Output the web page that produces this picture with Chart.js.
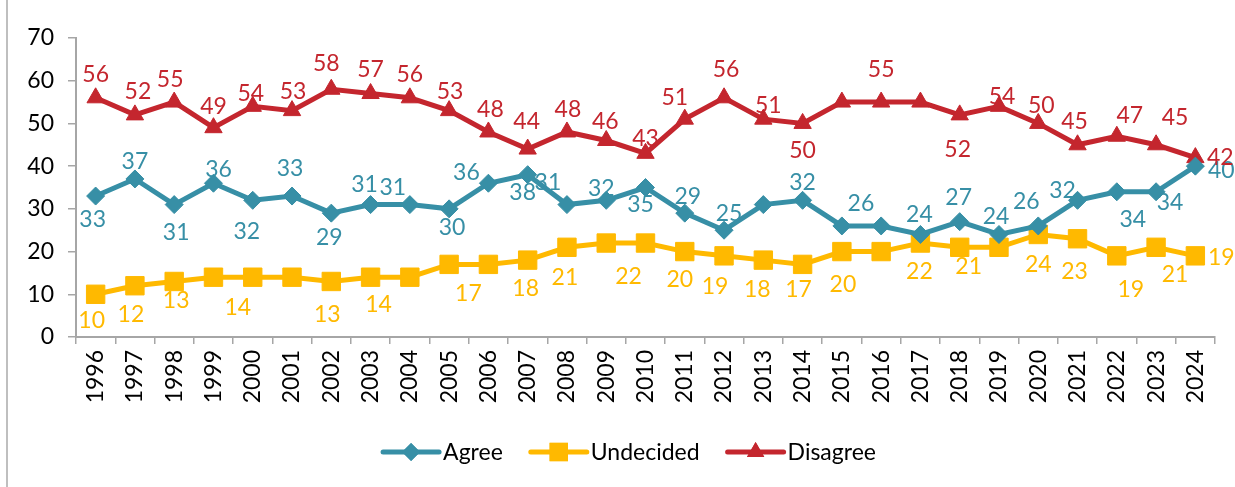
<!DOCTYPE html>
<html>
<head>
<meta charset="utf-8">
<script src="https://cdn.jsdelivr.net/npm/chart.js@4"></script>
<style>
  html, body { margin: 0; padding: 0; background: #fff; }
  #wrap { width: 1235px; height: 487px; position: relative; }
</style>
</head>
<body>
<div id="wrap"><canvas id="trendChart" width="1235" height="487"></canvas></div>
<script>
// Survey years and series values (percent)
const years = ['1996', '1997', '1998', '1999', '2000', '2001', '2002', '2003', '2004', '2005',
  '2006', '2007', '2008', '2009', '2010', '2011', '2012', '2013', '2014', '2015',
  '2016', '2017', '2018', '2019', '2020', '2021', '2022', '2023', '2024'];
const agree = [33, 37, 31, 36, 32, 33, 29, 31, 31, 30, 36, 38, 31, 32, 35, 29, 25, 31, 32, 26,
  26, 24, 27, 24, 26, 32, 34, 34, 40];
const undecided = [10, 12, 13, 14, 14, 14, 13, 14, 14, 17, 17, 18, 21, 22, 22, 20, 19, 18, 17, 20,
  20, 22, 21, 21, 24, 23, 19, 21, 19];
const disagree = [56, 52, 55, 49, 54, 53, 58, 57, 56, 53, 48, 44, 48, 46, 43, 51, 56, 51, 50, 55,
  55, 55, 52, 54, 50, 45, 47, 45, 42];
const yTicks = [0, 10, 20, 30, 40, 50, 60, 70];

// Label nudges in pixels relative to each point (null = label not shown)
const agreeLabelOffsets = [[-3, 24], [0, -17], [2, 28], [5, -14], [-6, 31], [-2, -27], [-2, 24], [-6, -20], [-17, -17], [3, 19],
  [-22, -11], [-5, 18], [-19, -22], [-5, -12], [-5, 17], [3, -17], [5, -17], null, [0, -18], [19, -22],
  null, [-1, -20], [-1, -24], [-3, -18], [-12, -24], [-15, -10], [16, 28], [14, 11], [26, 4]];
const undecidedLabelOffsets = [[-4, 26], [-4, 29], [2, 19], null, [-15, 30], null, [-4, 33], [8, 27], null, null,
  [-20, 29], [-2, 28], [-2, 30], null, [-17, 34], [-5, 28], [-9, 31], [-6, 29], [-4, 25], [1, 33],
  null, [-1, 29], [9, 19], null, [0, 30], [-3, 33], [14, 34], [19, 27], [26, 2]];
const disagreeLabelOffsets = [[0, -23], [3, -23], [-4, -22], [0, -21], [-2, -13], [1, -19], [-5, -26], [0, -24], [0, -23], [1, -19],
  [2, -22], [-1, -27], [1, -22], [-1, -19], [0, -15], [-10, -22], [2, -28], [5, -14], [0, 27], null,
  [0, -32], null, [-2, 35], [3, -10], [3, -18], [-3, -23], [13, -21], [19, -27], [25, 0]];

const FONT = 'Lato, "Open Sans", sans-serif';
const AXIS_GREY = '#A6A6A6';

// White background + outer frame line on the left
const framePlugin = {
  id: 'frame',
  beforeDraw(chart) {
    const ctx = chart.ctx;
    ctx.save();
    ctx.fillStyle = '#fff';
    ctx.fillRect(0, 0, chart.width, chart.height);
    ctx.strokeStyle = '#BFBFBF';
    ctx.lineWidth = 2;
    ctx.beginPath();
    ctx.moveTo(7, 0);
    ctx.lineTo(7, chart.height);
    ctx.stroke();
    ctx.restore();
  }
};

// Value labels next to each point, nudged per point
const pointLabelsPlugin = {
  id: 'pointLabels',
  afterDatasetsDraw(chart) {
    const ctx = chart.ctx;
    ctx.save();
    ctx.font = '23px ' + FONT;
    ctx.textAlign = 'center';
    ctx.textBaseline = 'middle';
    chart.data.datasets.forEach((ds, di) => {
      const meta = chart.getDatasetMeta(di);
      meta.data.forEach((pt, i) => {
        const off = ds.labelOffsets[i];
        if (!off) return;
        ctx.fillStyle = ds.borderColor;
        ctx.fillText(String(ds.data[i]), pt.x + off[0], pt.y + off[1]);
      });
    });
    ctx.restore();
  }
};

// Legend: line segment with marker in the middle, then the series name
const lineLegendPlugin = {
  id: 'lineLegend',
  afterDraw(chart) {
    const ctx = chart.ctx;
    const lineLen = 56, textGap = 4, itemGap = 28;
    const y = 452;
    ctx.save();
    ctx.font = '23px ' + FONT;
    ctx.textBaseline = 'middle';
    const items = chart.data.datasets.map(ds => ({ ds, w: lineLen + textGap + ctx.measureText(ds.label).width }));
    const total = items.reduce((s, it) => s + it.w, 0) + itemGap * (items.length - 1);
    let x = chart.width / 2 + 12 - total / 2;
    items.forEach(({ ds, w }) => {
      ctx.strokeStyle = ds.borderColor;
      ctx.lineWidth = 5;
      ctx.lineCap = 'round';
      ctx.beginPath();
      ctx.moveTo(x, y);
      ctx.lineTo(x + lineLen, y);
      ctx.stroke();
      ctx.fillStyle = ds.borderColor;
      Chart.helpers.drawPoint(ctx, {
        pointStyle: ds.pointStyle,
        radius: ds.pointRadius,
        rotation: 0,
        borderWidth: 0
      }, x + lineLen / 2, y);
      ctx.fill();
      ctx.fillStyle = '#000';
      ctx.fillText(ds.label, x + lineLen + textGap, y + 1);
      x += w + itemGap;
    });
    ctx.restore();
  }
};

const teal = '#378FA6';
const amber = '#FFB900';
const red = '#C4262E';

new Chart(document.getElementById('trendChart').getContext('2d'), {
  type: 'line',
  data: {
    labels: years,
    datasets: [
      { label: 'Agree', data: agree, borderColor: teal, backgroundColor: teal, pointStyle: 'rectRot', pointRadius: 9, labelOffsets: agreeLabelOffsets },
      { label: 'Undecided', data: undecided, borderColor: amber, backgroundColor: amber, pointStyle: 'rect', pointRadius: 13, labelOffsets: undecidedLabelOffsets },
      { label: 'Disagree', data: disagree, borderColor: red, backgroundColor: red, pointStyle: 'triangle', pointRadius: 10, labelOffsets: disagreeLabelOffsets }
    ]
  },
  options: {
    responsive: false,
    animation: false,
    devicePixelRatio: 1,
    layout: { padding: { left: 0, top: 38, right: 20, bottom: 0 } },
    elements: {
      line: { borderWidth: 5, tension: 0 },
      point: { borderWidth: 1, hoverRadius: 10 }
    },
    scales: {
      x: {
        type: 'category',
        offset: true,
        border: { color: AXIS_GREY, width: 2 },
        grid: { offset: true, drawOnChartArea: false, drawTicks: true, tickLength: 7, color: AXIS_GREY, lineWidth: 1.5 },
        ticks: { color: '#000', font: { family: FONT, size: 23 }, minRotation: 90, maxRotation: 90, padding: 6, autoSkip: false },
        afterFit: scale => { scale.height = 150; }
      },
      y: {
        min: 0,
        max: 70,
        border: { color: AXIS_GREY, width: 2 },
        grid: { drawOnChartArea: false, drawTicks: true, tickLength: 8, color: AXIS_GREY, lineWidth: 1.5 },
        afterBuildTicks: scale => { scale.ticks = yTicks.map(v => ({ value: v })); },
        ticks: { color: '#000', font: { family: FONT, size: 23 }, padding: 14 },
        afterFit: scale => { scale.width = 76; }
      }
    },
    plugins: {
      legend: { display: false },
      tooltip: { enabled: false }
    }
  },
  plugins: [framePlugin, pointLabelsPlugin, lineLegendPlugin]
});
</script>
</body>
</html>
